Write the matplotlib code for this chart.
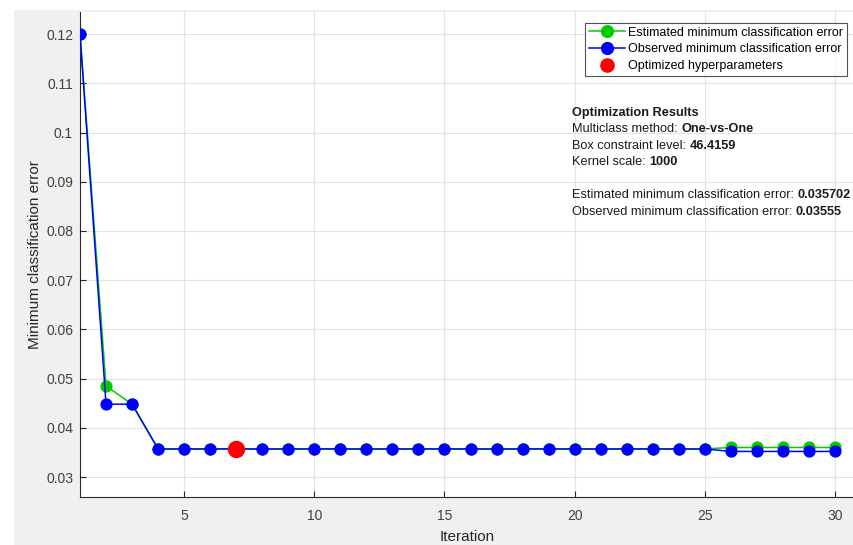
import matplotlib.pyplot as plt
import numpy as np
from matplotlib.ticker import FormatStrFormatter
from matplotlib.patches import Rectangle
from matplotlib.lines import Line2D

plt.rcParams['font.family'] = ['Liberation Sans', 'DejaVu Sans']

iteration = np.arange(1, 31)
estimated = [0.12, 0.0485, 0.0448] + [0.0357] * 22 + [0.0360] * 5
observed = [0.12, 0.0448, 0.0448] + [0.0357] * 22 + [0.0352] * 5
best_iter = 7
best_value = 0.0357

fig = plt.figure(figsize=(8.54, 5.45), dpi=100, facecolor='white')
# matlab grey figure area
fig.patches.append(Rectangle((14 / 854, 0), 1, (545 - 10) / 545, transform=fig.transFigure,
                             facecolor='#f0f0f0', edgecolor='none', zorder=-5))
ax = fig.add_axes([80 / 854, 48 / 545, 774 / 854, 485 / 545])
ax.set_zorder(2)
ax.set_facecolor('white')

ax.plot(iteration, estimated, '-o', color='#00cc00', lw=1.1, ms=7.8, zorder=3)
ax.plot(iteration, observed, '-o', color='#0000ff', lw=1.1, ms=7.8, zorder=4)
ax.plot([best_iter], [best_value], 'o', color='#ff0000', ms=11.5, zorder=5)

ax.set_xlim(1, 30.73)
ax.set_ylim(0.02594, 0.1245)
ax.set_xticks([5, 10, 15, 20, 25, 30])
ax.set_yticks(np.arange(0.03, 0.1201, 0.01))
ax.yaxis.set_major_formatter(FormatStrFormatter('%g'))
ax.tick_params(direction='in', length=4, width=0.8, colors='#262626', labelcolor='#404040',
               labelsize=10)
ax.tick_params(axis='x', pad=8.5)
ax.tick_params(axis='y', pad=5)
ax.grid(True, color='#e3e3e3', lw=0.8)
ax.set_axisbelow(True)
for s in ['top', 'right']:
    ax.spines[s].set_visible(False)
for s in ['left', 'bottom']:
    ax.spines[s].set_color('#262626')
    ax.spines[s].set_linewidth(0.8)

ax.set_xlabel('Iteration', fontsize=11, color='#262626', labelpad=5.5)
ax.set_ylabel('Minimum classification error', fontsize=11, color='#262626', labelpad=3)

handles = [Line2D([], [], color='#00cc00', marker='o', lw=1.1, ms=8.5),
           Line2D([], [], color='#0000ff', marker='o', lw=1.1, ms=8.5),
           Line2D([], [], color='#ff0000', marker='o', lw=0, ms=9.5)]
labels = ['Estimated minimum classification error',
          'Observed minimum classification error',
          'Optimized hyperparameters']
leg = ax.legend(handles, labels, loc='upper right', bbox_to_anchor=(1 - 7 / 774, 1 - 11 / 485),
                fontsize=9, frameon=True, fancybox=False, borderpad=0.3, labelspacing=0.38,
                handlelength=2.9, handletextpad=0.25, borderaxespad=0)
leg.get_frame().set_edgecolor('#262626')
leg.get_frame().set_linewidth(0.8)

tx = 572 / 854
lines = [
    ('Optimization Results', '', 113),
    ('Multiclass method: ', 'One-vs-One', 129),
    ('Box constraint level: ', '46.4159', 146),
    ('Kernel scale: ', '1000', 162),
    ('Estimated minimum classification error: ', '0.035702', 195),
    ('Observed minimum classification error: ', '0.03555', 212),
]
renderer = fig.canvas.get_renderer()
for normal, bold, ypix in lines:
    yf = 1 - ypix / 545
    if bold == '':
        fig.text(tx, yf, normal, fontsize=9.2, fontweight='bold', va='center', color='#1a1a1a',
                 zorder=10)
        continue
    t = fig.text(tx, yf, normal, fontsize=9.2, va='center', color='#1a1a1a', zorder=10)
    bb = t.get_window_extent(renderer=renderer)
    fig.text(bb.x1 / fig.bbox.width, yf, bold, fontsize=9.2, fontweight='bold', va='center',
             color='#1a1a1a', zorder=10)

fig.savefig('out.png', dpi=100, facecolor=fig.get_facecolor())
